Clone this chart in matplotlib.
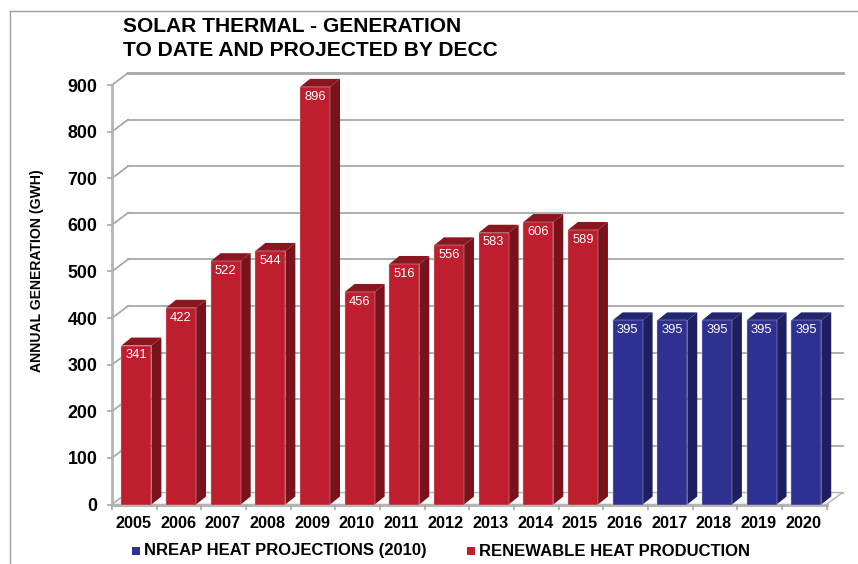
import matplotlib
matplotlib.use('Agg')
import matplotlib.pyplot as plt
from matplotlib.patches import Polygon, Rectangle
from matplotlib.lines import Line2D
from matplotlib.transforms import Affine2D

years = ['2005', '2006', '2007', '2008', '2009', '2010', '2011', '2012',
         '2013', '2014', '2015', '2016', '2017', '2018', '2019', '2020']
produced = [341, 422, 522, 544, 896, 456, 516, 556, 583, 606, 589]
projected = [395, 395, 395, 395, 395]
yticks = [0, 100, 200, 300, 400, 500, 600, 700, 800, 900]

RED, RED_SIDE, RED_TOP = '#BE1E2D', '#7A121C', '#8C1620'
BLUE, BLUE_SIDE, BLUE_TOP = '#2E3192', '#1E1F5E', '#23256F'
GRID = '#A8A8A8'

W, H = 858, 564
fig = plt.figure(figsize=(W / 100, H / 100), dpi=100)
plt.rcParams['font.family'] = ['Liberation Sans', 'DejaVu Sans']

# axes box in pixels: x 112-826, y 85-504
ax = fig.add_axes([112 / W, (H - 504.5) / H, 714.5 / W, 419.5 / H])
ax.set_xlim(0, 16)
ax.set_ylim(0, 900)
ax.patch.set_visible(False)
for s in ax.spines.values():
    s.set_visible(False)

# back wall is shifted up and right from the front
back = ax.transData + Affine2D().translate(16, 12)
px_x = 16 / 714.5
px_y = 900 / 419.5
for v in yticks:
    lw = 2 if v == 900 else 1.3
    ax.plot([0, 16], [v, v], color=GRID, lw=lw, transform=back, clip_on=False, zorder=1)
    ax.plot([0, 16 * px_x], [v, v + 12 * px_y], color=GRID, lw=1.3, clip_on=False, zorder=1)
ax.plot([0, 0], [0, 900], color='#B4B4B4', lw=2, clip_on=False, zorder=1)
ax.add_patch(Polygon([[0, 0], [16, 0], [16 + 16 * px_x, 12 * px_y], [16 * px_x, 12 * px_y]],
                     closed=True, fc='#FAFAFA', ec='#B4B4B4', lw=1, clip_on=False, zorder=1))
ax.plot([0, 16], [0, 0], color='#B4B4B4', lw=2.2, clip_on=False, zorder=1.5)


def bar3d(x, val, front, side, top):
    w = 30 * px_x
    left = x + 0.21
    dx, dy = 10 * px_x, 8 * px_y
    ax.bar(left, val, width=w, align='edge', color=front, edgecolor='#C9C9C9', lw=0.3,
           clip_on=False, zorder=3)
    ax.add_patch(Polygon([[left + w, 0], [left + w + dx, dy], [left + w + dx, val + dy], [left + w, val]],
                         closed=True, fc=side, ec='none', clip_on=False, zorder=2.5))
    ax.add_patch(Polygon([[left, val], [left + dx, val + dy], [left + w + dx, val + dy], [left + w, val]],
                         closed=True, fc=top, ec='none', clip_on=False, zorder=2.5))
    ax.annotate(str(val), (left + w / 2, val), xytext=(0, -7), textcoords='offset points',
                ha='center', va='center', color='white', fontsize=9.3, zorder=4)


for i, val in enumerate(produced):
    bar3d(i, val, RED, RED_SIDE, RED_TOP)
for i, val in enumerate(projected):
    bar3d(i + len(produced), val, BLUE, BLUE_SIDE, BLUE_TOP)

ax.set_xticks(range(17))
ax.set_xticklabels([])
ax.set_yticks(yticks)
ax.set_yticklabels([str(v) for v in yticks], fontsize=12.8, fontweight='bold')
ax.tick_params(axis='y', length=3.6, width=1.2, color=GRID, pad=7)
ax.tick_params(axis='x', length=3.6, width=1.2, color=GRID)
for i, y in enumerate(years):
    ax.text(i + 0.48, -40, y, ha='center', va='center', fontsize=11.7, fontweight='bold', clip_on=False)

ax.set_ylabel('ANNUAL GENERATION (GWH)', fontsize=10.1, fontweight='bold')
ax.yaxis.set_label_coords(-0.095, 0.557)

# frame around the whole picture
fig.add_artist(Line2D([9.5 / W, 9.5 / W], [0, (H - 11) / H], color='#A0A0A0', lw=1))
fig.add_artist(Line2D([9.5 / W, 1], [(H - 11) / H, (H - 11) / H], color='#A0A0A0', lw=1))

fig.text(123 / W, (H - 27) / H, 'SOLAR THERMAL - GENERATION', fontsize=15.1, fontweight='bold', va='center')
fig.text(123 / W, (H - 51) / H, 'TO DATE AND PROJECTED BY DECC', fontsize=15.1, fontweight='bold', va='center')

# legend
fig.add_artist(Rectangle((132 / W, (H - 555) / H), 8 / W, 8 / H, transform=fig.transFigure, fc=BLUE, ec='none'))
fig.text(144 / W, (H - 551) / H, 'NREAP HEAT PROJECTIONS (2010)', fontsize=12, fontweight='bold', va='center')
fig.add_artist(Rectangle((467 / W, (H - 555) / H), 8 / W, 8 / H, transform=fig.transFigure, fc=RED, ec='none'))
fig.text(479 / W, (H - 551) / H, 'RENEWABLE HEAT PRODUCTION', fontsize=12, fontweight='bold', va='center')

fig.savefig('out.png', dpi=100)
